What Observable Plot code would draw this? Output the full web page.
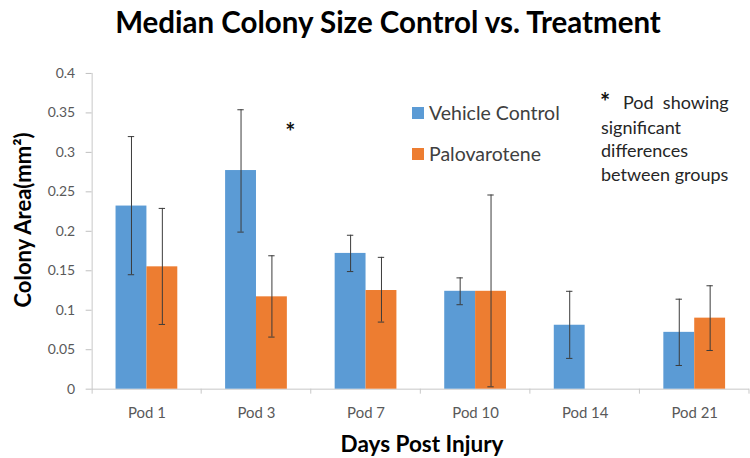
<!DOCTYPE html>
<html>
<head>
<meta charset="utf-8">
<script src="https://cdn.jsdelivr.net/npm/d3@7"></script>
<script src="https://cdn.jsdelivr.net/npm/@observablehq/plot@0.6"></script>
<style>
  html, body { margin: 0; padding: 0; background: #fff; }
  #wrap { position: relative; width: 750px; height: 458px; overflow: hidden; background: #fff; font-family: Lato, "Open Sans", sans-serif; }
  #chart { position: absolute; left: 0; top: 60px; }
  #overlay { position: absolute; left: 0; top: 0; pointer-events: none; }
</style>
</head>
<body>
<div id="wrap">
  <div id="chart"></div>
  <svg id="overlay" width="750" height="458"></svg>
</div>
<script>
// ---- data ----
const pods = ["Pod 1", "Pod 3", "Pod 7", "Pod 10", "Pod 14", "Pod 21"];
const groups = ["Vehicle Control", "Palovarotene"];
const groupColors = ["#5B9BD5", "#ED7D31"];

const vehicle   = [0.232, 0.277, 0.172, 0.124, 0.081, 0.072];
const vehicleLo = [0.145, 0.199, 0.149, 0.107, 0.039, 0.030];
const vehicleHi = [0.320, 0.354, 0.195, 0.141, 0.124, 0.114];

const palo   = [0.155, 0.117, 0.125, 0.124, null, 0.090];
const paloLo = [0.082, 0.066, 0.085, 0.003, null, 0.049];
const paloHi = [0.229, 0.169, 0.167, 0.246, null, 0.131];

const yTicks = [0, 0.05, 0.1, 0.15, 0.2, 0.25, 0.3, 0.35, 0.4];

const sigPods = ["Pod 3"];
const sigY = [0.324];

const titleText = "Median Colony Size Control vs. Treatment";
const xTitle = "Days Post Injury";
const yTitle = "Colony Area(mm²)";
const noteLines = ["Pod  showing", "significant", "differences", "between groups"];

// ---- build table ----
const rows = [];
pods.forEach((p, i) => {
  rows.push({pod: p, group: groups[0], value: vehicle[i], lo: vehicleLo[i], hi: vehicleHi[i]});
  if (palo[i] != null) rows.push({pod: p, group: groups[1], value: palo[i], lo: paloLo[i], hi: paloHi[i]});
});
const sig = sigPods.map((p, i) => ({pod: p, group: groups[1], y: sigY[i]}));

const errColor = "#3a3a3a";
const capInset = 12.3;

const plot = Plot.plot({
  width: 753,
  height: 398,
  marginLeft: 90,
  marginRight: 0,
  marginTop: 13,
  marginBottom: 68,
  style: {fontFamily: "Lato, 'Open Sans', sans-serif", fontSize: "14px", color: "#595959", background: "transparent", overflow: "visible"},
  fx: {domain: pods, padding: 0, label: null},
  x: {domain: groups, paddingInner: 0, paddingOuter: 0.75, axis: null},
  y: {domain: [0, 0.4]},
  color: {domain: groups, range: groupColors},
  marks: [
    Plot.axisY({ticks: yTicks, tickFormat: d => String(+d.toFixed(2)), tickSize: 6, tickPadding: 11, label: null, stroke: "#BFBFBF", fill: "#595959", fontSize: 14}),
    Plot.axisFx({anchor: "bottom", tickSize: 0, tickPadding: 18, label: null, fill: "#595959", fontSize: 15}),
    Plot.ruleY([0], {stroke: "#C8C8C8"}),
    Plot.barY(rows, {fx: "pod", x: "group", y: "value", fill: "group"}),
    Plot.ruleX(rows, {fx: "pod", x: "group", y1: "lo", y2: "hi", stroke: errColor, strokeWidth: 1}),
    Plot.tickY(rows, {fx: "pod", x: "group", y: "lo", stroke: errColor, insetLeft: capInset, insetRight: capInset}),
    Plot.tickY(rows, {fx: "pod", x: "group", y: "hi", stroke: errColor, insetLeft: capInset, insetRight: capInset}),
    Plot.text(sig, {fx: "pod", x: "group", y: "y", text: () => "*", dx: 18.5, fontSize: 24, fontWeight: "bold", fill: "#111"})
  ]
});
document.getElementById("chart").appendChild(plot);

// axis line and category boundary ticks from the plot's own scales
const fxS = plot.scale("fx");
const yS = plot.scale("y");
const y0 = yS.apply(0), yTop = yS.apply(0.4);
const bw = fxS.bandwidth != null ? fxS.bandwidth : (fxS.range[1] - fxS.range[0]) / pods.length;
const g = d3.select(plot).append("g").attr("stroke", "#C8C8C8");
const x0 = fxS.apply(pods[0]);
g.append("line").attr("x1", x0 + 0.5).attr("x2", x0 + 0.5).attr("y1", yTop).attr("y2", y0 + 5);
pods.forEach(p => {
  const xb = fxS.apply(p) + bw;
  g.append("line").attr("x1", xb).attr("x2", xb).attr("y1", y0).attr("y2", y0 + 5);
});

// overlay texts
const ov = d3.select("#overlay");
ov.append("text").attr("x", 388).attr("y", 33).attr("text-anchor", "middle")
  .attr("font-family", "Lato").attr("font-weight", "bold").attr("font-size", 29.5).attr("fill", "#000").text(titleText);
ov.append("text").attr("x", 422).attr("y", 452).attr("text-anchor", "middle")
  .attr("font-family", "Lato").attr("font-weight", "bold").attr("font-size", 22.5).attr("fill", "#000").text(xTitle);
ov.append("text").attr("transform", "translate(31,220) rotate(-90)").attr("text-anchor", "middle")
  .attr("font-family", "Lato").attr("font-weight", "bold").attr("font-size", 22).attr("fill", "#000").text(yTitle);

// legend
const legY = [107, 148];
groups.forEach((gname, i) => {
  ov.append("rect").attr("x", 412).attr("y", legY[i]).attr("width", 12).attr("height", 12).attr("fill", groupColors[i]);
  ov.append("text").attr("x", 429).attr("y", legY[i] + 12.5).attr("font-family", "Lato").attr("font-size", 19.5).attr("fill", "#404040").text(gname);
});

// annotation
ov.append("text").attr("x", 600).attr("y", 111).attr("font-family", "Lato").attr("font-weight", "bold").attr("font-size", 24).attr("fill", "#111").text("*");
const noteX = [623, 601, 601, 601];
const noteY = [109, 134, 157, 181];
noteLines.forEach((t, i) => {
  ov.append("text").attr("x", noteX[i]).attr("y", noteY[i]).attr("font-family", "Lato").attr("font-size", 18)
    .attr("fill", "#262626").attr("xml:space", "preserve").style("white-space", "pre").text(t);
});
</script>
</body>
</html>
